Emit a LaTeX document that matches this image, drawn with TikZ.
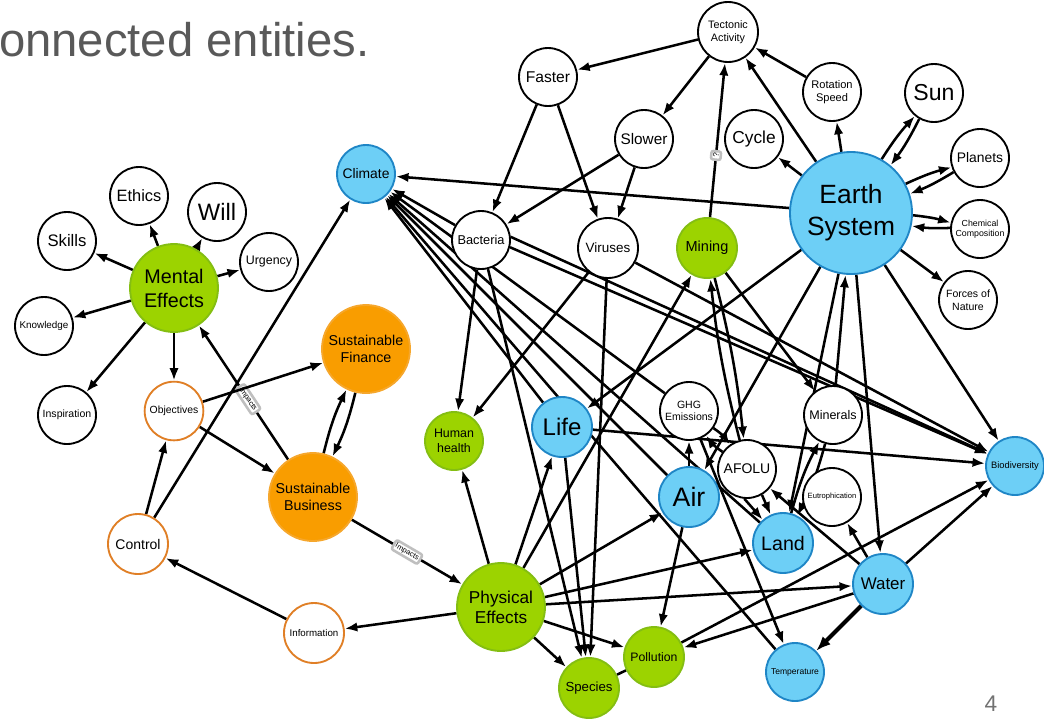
\documentclass[tikz,border=0pt]{standalone}
\usepackage{fontspec}
\setmainfont{Liberation Sans}
\usetikzlibrary{arrows.meta}
\pgfdeclarelayer{paper}
\pgfdeclarelayer{links}
\pgfsetlayers{paper,links,main}
\definecolor{grnF}{HTML}{9CD300}
\definecolor{grnD}{HTML}{84BE12}
\definecolor{bluF}{HTML}{6DCFF6}
\definecolor{bluD}{HTML}{1F86C6}
\definecolor{orgF}{HTML}{F99D00}
\definecolor{orgD}{HTML}{F6A72C}
\definecolor{orgL}{HTML}{E07F26}
\definecolor{txtG}{HTML}{595959}
\newcommand\fs[2]{\fontsize{#1pt}{#2pt}\selectfont}
\begin{document}
\begin{tikzpicture}[x=0.75pt,y=-0.75pt,
  ent/.style={circle,inner sep=0pt,align=center,line width=1.4pt},
  whiteN/.style={ent,draw=black,fill=white,minimum size=#1},
  whiteN/.default=43.5pt,
  greenN/.style={ent,draw=grnD,fill=grnF,minimum size=#1},
  greenN/.default=45pt,
  blueN/.style={ent,draw=bluD,fill=bluF,minimum size=#1},
  blueN/.default=45pt,
  orangeN/.style={ent,draw=orgD,fill=orgF,minimum size=66pt},
  ringN/.style={ent,draw=orgL,fill=white,minimum size=#1},
  ringN/.default=44pt,
  link/.style={line width=1.9pt,-{Latex[length=9.5pt,width=7pt]}},
  heavy/.style={line width=3pt,-{Latex[length=11pt,width=8.5pt]}},
  bare/.style={line width=1.9pt},
  tag/.style={sloped,midway,fill=white,draw=black!25,rounded corners=1.5pt,inner sep=1.5pt,font=\fs{5.6}{6.6}}
]
\useasboundingbox (0,0) rectangle (1044,718);
\begin{pgfonlayer}{paper}
  \fill[white] (0,0) rectangle (1044,718);
\end{pgfonlayer}

% heading fragment and page number
\node[anchor=base west,inner sep=0pt,text=txtG,font=\fs{35.4}{40}] (head) at (-1,56) {onnected entities.};
\node[anchor=base,inner sep=0pt,text=txtG!85,font=\fs{17}{20}] (pgno) at (991,711) {4};

% ---- mental side
\node[greenN=66pt,font=\fs{14.8}{18}] (me) at (174,288) {Mental\\Effects};
\node[whiteN,font=\fs{12.3}{14}] (eth) at (139,196) {Ethics};
\node[whiteN,font=\fs{17.8}{20}] (wil) at (217,212) {Will};
\node[whiteN,font=\fs{12.5}{14}] (ski) at (67,241) {Skills};
\node[whiteN,font=\fs{9.3}{11}] (urg) at (269,262) {Urgency};
\node[whiteN,font=\fs{7.4}{9}] (kno) at (44,326) {Knowledge};
\node[whiteN,font=\fs{7.9}{9}] (ins) at (67,415) {Inspiration};
\node[ringN,font=\fs{7.8}{9}] (obj) at (174,411) {Objectives};
\node[orangeN,font=\fs{10.7}{12.5}] (sf) at (366,349) {Sustainable\\Finance};
\node[orangeN,font=\fs{10.7}{12.5}] (sb) at (313,497) {Sustainable\\Business};
\node[ringN=45pt,font=\fs{10.5}{12}] (con) at (138,544) {Control};
\node[ringN=45pt,font=\fs{7.3}{9}] (inf) at (314,633) {Information};

% ---- upper chain
\node[whiteN=45pt,font=\fs{8.1}{9.8}] (ten) at (728,32) {Tectonic\\Activity};
\node[whiteN,font=\fs{11.7}{13}] (fas) at (548,77) {Faster};
\node[whiteN,font=\fs{11.5}{13}] (slo) at (644,139) {Slower};
\node[whiteN,font=\fs{13}{15}] (cyc) at (754,139) {Cycle};
\node[whiteN,font=\fs{8.3}{10}] (rot) at (832,92) {Rotation\\Speed};
\node[whiteN,font=\fs{17.3}{19}] (sun) at (934,93) {Sun};
\node[whiteN,font=\fs{10.4}{12}] (pla) at (980,158) {Planets};
\node[whiteN,font=\fs{6.6}{7.7}] (che) at (980,229) {Chemical\\Composition};
\node[whiteN,font=\fs{7.9}{9.8}] (for) at (968,300) {Forces of\\Nature};
\node[blueN=91.5pt,font=\fs{19.8}{24}] (es) at (851,213) {Earth\\System};
\node[blueN=43.5pt,font=\fs{10.4}{12}] (cli) at (366,174) {Climate};
\node[whiteN,font=\fs{9.6}{11}] (bac) at (481,240) {Bacteria};
\node[whiteN=45pt,font=\fs{10.1}{12}] (vir) at (608,248) {Viruses};
\node[greenN,font=\fs{10.9}{12}] (min) at (707,248) {Mining};

% ---- middle and lower cluster
\node[greenN=43.5pt,font=\fs{9.3}{11}] (hh) at (454,441) {Human\\health};
\node[blueN,font=\fs{18}{20}] (life) at (562,427) {Life};
\node[whiteN,font=\fs{7.9}{9.5}] (ghg) at (689,411) {GHG\\Emissions};
\node[whiteN,font=\fs{10.5}{12}] (afo) at (747,469) {AFOLU};
\node[whiteN,font=\fs{9.4}{11}] (mnr) at (833,415) {Minerals};
\node[whiteN,font=\fs{5.7}{7}] (eut) at (832,497) {Eutrophication};
\node[blueN,font=\fs{20}{22}] (air) at (689,497) {Air};
\node[blueN,font=\fs{14.7}{16}] (land) at (783,543) {Land};
\node[blueN,font=\fs{12.7}{14}] (wat) at (883,584) {Water};
\node[blueN=43.5pt,font=\fs{6.4}{7.5}] (tmp) at (795,672) {Temperature};
\node[blueN=43.5pt,font=\fs{7}{8}] (bio) at (1015,466) {Biodiversity};
\node[greenN,font=\fs{9.9}{11}] (spe) at (589,688) {Species};
\node[greenN,font=\fs{9.2}{11}] (pol) at (654,657) {Pollution};
\node[greenN=66pt,font=\fs{12.9}{15}] (pe) at (501,607) {Physical\\Effects};

\begin{pgfonlayer}{links}
  % mental effects and its spokes
  \foreach \t in {eth,wil,ski,urg,kno,ins,obj} \draw[link] (me) -- (\t);
  \draw[link] (sb) -- node[tag,pos=0.45]{Impacts} (me);
  \draw[link] (obj) -- (sf);
  \draw[link] (obj) -- (sb);
  \draw[link] (con) -- (obj);
  \draw[link] (con) -- (cli);
  \draw[link] (inf) -- (con);
  \draw[link] (pe) -- (inf);
  \draw[link] (sb) to[bend left=6] (sf);
  \draw[link] (sf) to[bend left=6] (sb);
  \draw[link] (sb) -- node[tag]{Impacts} (pe);

  % tectonics and the earth system ring
  \draw[link] (ten) -- (fas);
  \draw[link] (ten) -- (slo);
  \draw[link] (min) -- node[tag,pos=0.4,font=\fs{6}{7}]{?} (ten);
  \draw[link] (es) -- (ten);
  \draw[link] (rot) -- (ten);
  \draw[link] (es) -- (rot);
  \draw[link] (es) -- (cyc);
  \foreach \t in {sun,pla,che} {
    \draw[link] (es) to[bend left=5] (\t);
    \draw[link] (\t) to[bend left=5] (es);
  }
  \draw[link] (es) -- (for);
  \foreach \s in {fas,slo} {
    \draw[link] (\s) -- (bac);
    \draw[link] (\s) -- (vir);
  }

  % into climate
  \draw[link] (es) -- (cli);
  \foreach \s in {bac,life,ghg,air,land,tmp} \draw[link] (\s) -- (cli);

  % health and species
  \foreach \s in {bac,vir,pe} \draw[link] (\s) -- (hh);
  \foreach \s in {bac,life,vir,pe} \draw[link] (\s) -- (spe);
  \draw[bare] (spe) -- (pol);

  % biodiversity
  \draw[link] (bac.6) -- (bio);
  \draw[link] (bac.-14) -- (bio);
  \foreach \s in {vir,life,es,pol,wat} \draw[link] (\s) -- (bio);

  % earth system downward
  \foreach \t in {life,air,land,wat} \draw[link] (es) -- (\t);
  \draw[link] (mnr) -- (es);

  % physical effects outward
  \foreach \t in {life,min,air,land,wat,pol} \draw[link] (pe) -- (\t);

  % mining, minerals, land use
  \draw[link] (min) -- (mnr);
  \draw[link] (min) to[bend left=4] (afo);
  \draw[link] (afo) to[bend left=4] (min);
  \draw[link] (mnr) to[bend left=6] (land);
  \draw[link] (land) to[bend left=6] (mnr);
  \draw[link] (afo.-95) -- (land);
  \draw[link] (afo.-60) -- (land);

  % emissions and water
  \draw[link] (air) -- (ghg);
  \draw[link] (ghg) to[bend left=10] (afo);
  \draw[link] (afo) to[bend left=10] (ghg);
  \draw[link] (wat) -- (afo);
  \draw[link] (ghg) -- (tmp);
  \draw[link] (air) -- (pol);
  \draw[link] (wat) -- (pol);
  \draw[heavy] (wat) -- (tmp);
  \draw[link] (wat) -- (eut);
\end{pgfonlayer}
\end{tikzpicture}
\end{document}
